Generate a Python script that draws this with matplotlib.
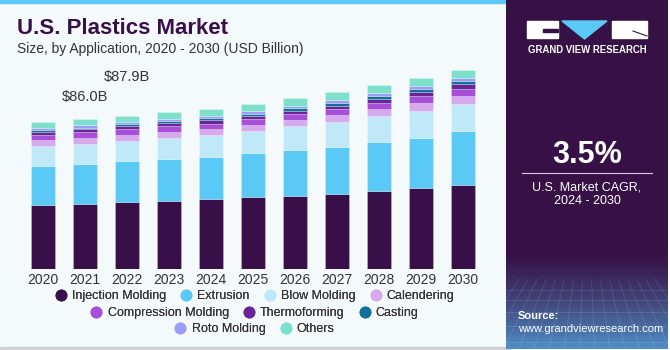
import numpy as np
import matplotlib.pyplot as plt
from matplotlib.patches import Rectangle, Polygon
from matplotlib.lines import Line2D

plt.rcParams['font.family'] = ['Liberation Sans', 'DejaVu Sans']

# data (USD Billion)
years = ["2020", "2021", "2022", "2023", "2024", "2025", "2026", "2027", "2028", "2029", "2030"]
injection = [36.7, 37.3, 38.3, 39.2, 40.0, 41.3, 42.1, 43.0, 45.0, 46.7, 48.4]
extrusion = [22.4, 22.8, 23.5, 23.9, 24.3, 25.3, 26.4, 27.0, 27.9, 28.7, 30.6]
blow = [11.3, 11.9, 11.9, 12.2, 12.6, 12.8, 13.4, 14.5, 14.7, 15.5, 15.9]
calendering = [3.4, 3.1, 3.4, 3.4, 3.4, 3.4, 3.8, 3.8, 4.0, 4.4, 4.6]
compression = [2.9, 3.4, 3.1, 3.4, 3.1, 3.4, 3.4, 3.6, 3.8, 4.0, 4.0]
thermoforming = [1.9, 1.7, 1.7, 1.5, 1.9, 1.7, 1.9, 1.9, 2.3, 2.5, 2.7]
casting = [1.0, 1.0, 1.1, 1.3, 1.3, 1.3, 1.7, 1.7, 1.7, 1.5, 1.5]
roto = [1.1, 1.3, 1.5, 1.3, 1.5, 1.5, 1.1, 1.5, 1.5, 1.5, 1.7]
others = [3.6, 3.6, 3.6, 3.8, 3.8, 4.0, 4.4, 4.4, 4.8, 4.6, 5.0]

series = [
    ("Injection Molding", injection, "#380F48"),
    ("Extrusion", extrusion, "#5BC9F6"),
    ("Blow Molding", blow, "#BFE9F9"),
    ("Calendering", calendering, "#D5A9EC"),
    ("Compression Molding", compression, "#A84FD9"),
    ("Thermoforming", thermoforming, "#6C2497"),
    ("Casting", casting, "#11719A"),
    ("Roto Molding", roto, "#9D9DF7"),
    ("Others", others, "#7DE0CB"),
]
labels = {1: "$86.0B", 2: "$87.9B"}
label_offset = {1: 11, 2: 23}  # points above bar

W, H = 670, 350


def fx(px):
    return px / W


def fy(py):
    return 1 - py / H


fig = plt.figure(figsize=(W / 100, H / 100), dpi=100, facecolor="white")

# backgrounds
bg = fig.add_axes([0, 0, 1, 1])
bg.set_xlim(0, W)
bg.set_ylim(H, 0)
bg.axis("off")
bg.add_patch(Rectangle((0, 0), 510, 348, color="#F4F9FC", zorder=0))
bg.add_patch(Rectangle((0, 0), 510, 3, color="#5BC9F6", zorder=1))
bg.add_patch(Rectangle((0, 347), 510, 3, color="#D0D0D0", zorder=1))

# right panel with gradient
rp = fig.add_axes([fx(506), fy(349), fx(668) - fx(506), (349 - 0) / H])
rp.axis("off")
grad = np.linspace(0, 1, 200)[:, None]
top = np.array([0x37, 0x11, 0x46]) / 255
bot = np.array([0x4F, 0x8E, 0xC4]) / 255
w = np.clip((grad - 0.72) / 0.28, 0, 1) ** 1.3
img = top * (1 - w) + bot * w
img = np.repeat(img[:, None, :], 2, axis=1).reshape(200, 2, 3)
rp.imshow(img, aspect="auto", extent=[0, 1, 1, 0])
for gx in np.linspace(-0.2, 1.2, 16):
    rp.plot([0.5 + (gx - 0.5) * 0.6, gx], [0.8, 1.0], color="white", alpha=0.12, lw=0.6)
for gy in [0.83, 0.86, 0.895, 0.935, 0.98]:
    rp.plot([0, 1], [gy, gy], color="white", alpha=0.12, lw=0.6)
rp.set_xlim(0, 1)
rp.set_ylim(1, 0)

# overlay for logo and divider
ov = fig.add_axes([0, 0, 1, 1])
ov.set_xlim(0, W)
ov.set_ylim(H, 0)
ov.axis("off")
ov.add_patch(Rectangle((527, 21), 31, 17, color="white", zorder=3))
ov.add_patch(Rectangle((543, 29), 15, 3, color="#371146", zorder=4))
ov.add_patch(Polygon([[562, 21], [607, 21], [584.5, 39]], color="#5BC9F6", zorder=3))
ov.add_patch(Rectangle((612, 21), 35, 17, color="white", zorder=3))
ov.plot([633, 647], [31, 36], color="#371146", lw=0.8, zorder=4)
ov.plot([522, 652], [173, 173], color="#D8CCE0", lw=0.8)

fig.text(fx(587), fy(50), "GRAND VIEW RESEARCH", color="white", fontsize=6.9,
         fontweight="bold", ha="center", va="center")
fig.text(fx(587), fy(155), "3.5%", color="white", fontsize=22, fontweight="bold",
         ha="center", va="center")
fig.text(fx(587), fy(187), "U.S. Market CAGR,", color="white", fontsize=9,
         ha="center", va="center")
fig.text(fx(587), fy(201), "2024 - 2030", color="white", fontsize=9,
         ha="center", va="center")
fig.text(fx(518), fy(316), "Source:", color="white", fontsize=8, fontweight="bold",
         ha="left", va="center")
fig.text(fx(518), fy(329), "www.grandviewresearch.com", color="white", fontsize=8,
         ha="left", va="center")

# titles
fig.text(fx(17), fy(29), "U.S. Plastics Market", color="#380F48", fontsize=16,
         fontweight="bold", ha="left", va="center")
fig.text(fx(17), fy(49), "Size, by Application, 2020 - 2030 (USD Billion)", color="#333333",
         fontsize=10, ha="left", va="center")

# chart
ax = fig.add_axes([fx(20), fy(269), fx(486) - fx(20), (269 - 60) / H])
ax.set_facecolor("none")
x = np.arange(len(years))
bottom = np.zeros(len(years))
for name, vals, col in series:
    ax.bar(x, vals, bottom=bottom, width=0.57, color=col, label=name,
           edgecolor=(1, 1, 1, 0.35), linewidth=0.5)
    bottom += np.array(vals)

for i, txt in labels.items():
    ax.annotate(txt, (x[i], bottom[i]), xytext=(0, label_offset[i]), textcoords="offset points",
                ha="center", va="bottom", fontsize=10.5, color="#333333")

ax.set_xlim(-0.548, len(years) - 1 + 0.548)
ax.set_ylim(0, 120)
ax.set_xticks(x)
ax.set_xticklabels(years, fontsize=10, color="#333333")
ax.tick_params(axis="x", length=0, pad=3)
ax.set_yticks([])
for s in ax.spines.values():
    s.set_visible(False)

# legend: three centered rows with round markers
dots = [Line2D([], [], ls="none", marker="o", markersize=7.5, color=col, label=name)
        for name, vals, col in series]
rows = [dots[0:4], dots[4:7], dots[7:9]]
row_y = [296, 313, 329]
for hs, ry in zip(rows, row_y):
    leg = fig.legend(handles=hs, ncol=len(hs), loc="center",
                     bbox_to_anchor=(fx(255), fy(ry)), frameon=False,
                     fontsize=9, handlelength=0.8, handletextpad=0.5,
                     columnspacing=1.2, borderpad=0, borderaxespad=0)
    for t in leg.get_texts():
        t.set_color("#333333")
    fig.add_artist(leg)

fig.savefig("out.png", dpi=100, facecolor=fig.get_facecolor())
